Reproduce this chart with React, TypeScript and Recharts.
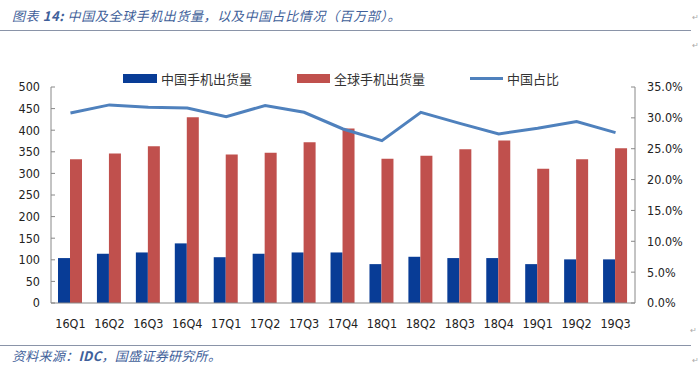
import { ComposedChart, Bar, Line, XAxis, YAxis } from 'recharts';

const quarters = ['16Q1', '16Q2', '16Q3', '16Q4', '17Q1', '17Q2', '17Q3', '17Q4', '18Q1', '18Q2', '18Q3', '18Q4', '19Q1', '19Q2', '19Q3'];
const chinaShipments = [104, 114, 117, 138, 106, 114, 117, 117, 90, 107, 104, 104, 90, 101, 101];
const globalShipments = [333, 346, 363, 430, 344, 348, 372, 404, 334, 341, 356, 376, 311, 333, 358];
const chinaShare = [30.8, 32.1, 31.7, 31.6, 30.2, 32.0, 30.9, 28.2, 26.3, 30.9, 29.1, 27.4, 28.3, 29.4, 27.6];
const leftTicks = [0, 50, 100, 150, 200, 250, 300, 350, 400, 450, 500];
const rightTicks = [0, 5, 10, 15, 20, 25, 30, 35];

const data = quarters.map((q, i) => ({
  q,
  china: chinaShipments[i],
  global: globalShipments[i],
  share: chinaShare[i],
}));

const BLUE = '#083c96';
const RED = '#c0504d';
const LINE = '#4f81bd';
const tickFont = { fontSize: 12.5, fill: '#222', fontFamily: "Tahoma, 'DejaVu Sans Condensed', 'Liberation Sans', sans-serif" };
const cjk = "'Noto Sans CJK SC', sans-serif";

export default function App() {
  return (
    <div style={{ position: 'absolute', left: 0, top: 0, width: 700, height: 368, background: '#fff', overflow: 'hidden' }}>
      <div style={{ position: 'absolute', left: 12, top: 6, fontFamily: cjk, fontSize: 13, fontStyle: 'italic', color: '#3f5f9a', whiteSpace: 'nowrap', letterSpacing: 0.6 }}>
        图表 <b>14:</b> 中国及全球手机出货量，以及中国占比情况（百万部）。
      </div>
      <div style={{ position: 'absolute', left: 0, top: 30, width: 691, height: 1, background: '#8a94a8' }} />
      <div style={{ position: 'absolute', left: 692, top: 13, fontSize: 8, color: '#aaa' }}>↵</div>
      <div style={{ position: 'absolute', left: 692, top: 41, fontSize: 8, color: '#aaa' }}>↵</div>

      {/* legend */}
      <div style={{ position: 'absolute', left: 123, top: 74, width: 34, height: 9, background: BLUE }} />
      <div style={{ position: 'absolute', left: 161, top: 69, fontFamily: cjk, fontSize: 13, color: '#333' }}>中国手机出货量</div>
      <div style={{ position: 'absolute', left: 297, top: 74, width: 33, height: 9, background: RED }} />
      <div style={{ position: 'absolute', left: 334, top: 69, fontFamily: cjk, fontSize: 13, color: '#333' }}>全球手机出货量</div>
      <div style={{ position: 'absolute', left: 470, top: 77, width: 33, height: 3, background: LINE }} />
      <div style={{ position: 'absolute', left: 507, top: 69, fontFamily: cjk, fontSize: 13, color: '#333' }}>中国占比</div>

      <div style={{ position: 'absolute', left: 0, top: 0 }}>
        <ComposedChart width={700} height={368} data={data} margin={{ top: 87, right: 0, bottom: 40, left: 0 }} barGap={0} barSize={12}>
          <XAxis dataKey="q" tick={tickFont} tickLine={false} axisLine={{ stroke: '#888' }} height={25} tickMargin={10} />
          <YAxis yAxisId="left" width={51} domain={[0, 500]} ticks={leftTicks} tick={tickFont}
            axisLine={{ stroke: '#888' }} tickLine={{ stroke: '#888' }} tickSize={-4} tickMargin={15} />
          <YAxis yAxisId="right" orientation="right" width={65} domain={[0, 35]} ticks={rightTicks} tick={tickFont}
            tickFormatter={(v: number) => `${v.toFixed(1)}%`}
            axisLine={{ stroke: '#888' }} tickLine={{ stroke: '#888' }} tickSize={-4} tickMargin={16} />
          <Bar yAxisId="left" dataKey="china" fill={BLUE} isAnimationActive={false} />
          <Bar yAxisId="left" dataKey="global" fill={RED} isAnimationActive={false} />
          <Line yAxisId="right" dataKey="share" stroke={LINE} strokeWidth={3} dot={false} type="linear" isAnimationActive={false} />
        </ComposedChart>
      </div>

      <div style={{ position: 'absolute', left: 0, top: 345, width: 691, height: 1, background: '#8a94a8' }} />
      <div style={{ position: 'absolute', left: 12, top: 346, fontFamily: cjk, fontSize: 13, fontStyle: 'italic', color: '#3f5f9a', whiteSpace: 'nowrap', letterSpacing: 0.3 }}>
        资料来源：<b>IDC</b>，国盛证券研究所。
      </div>
      <div style={{ position: 'absolute', left: 690, top: 326, fontSize: 8, color: '#aaa' }}>↵</div>
      <div style={{ position: 'absolute', left: 692, top: 356, fontSize: 8, color: '#aaa' }}>↵</div>
    </div>
  );
}
